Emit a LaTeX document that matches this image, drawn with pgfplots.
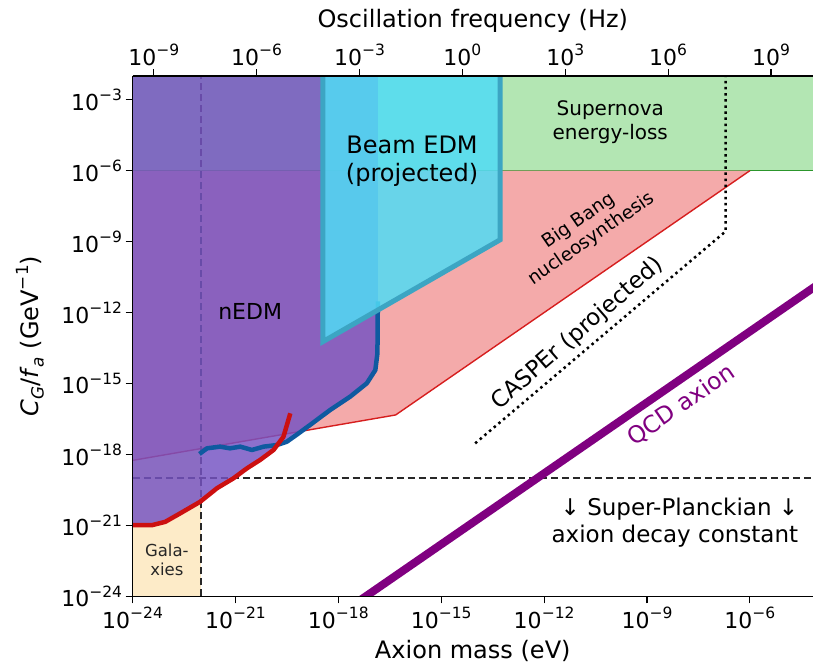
\documentclass[border=0pt]{standalone}
\usepackage{pgfplots}
\pgfplotsset{compat=1.18}
\usepackage{fontspec}
\setmainfont{DejaVu Sans}[ItalicFont={DejaVu Sans Oblique}]
\definecolor{galx}{RGB}{253,235,200}
\definecolor{sng}{RGB}{179,230,179}
\definecolor{sne}{RGB}{44,150,44}
\definecolor{bbn}{RGB}{244,170,170}
\definecolor{bbne}{RGB}{214,30,30}
\definecolor{nedm}{RGB}{117,83,195}
\definecolor{bluel}{RGB}{15,90,160}
\definecolor{redl}{RGB}{204,16,16}
\definecolor{cyanf}{RGB}{80,220,245}
\definecolor{cyane}{RGB}{60,165,195}
\definecolor{qcd}{RGB}{128,0,128}
\definecolor{dgray}{RGB}{40,40,40}
\newcommand{\pw}[1]{\mbox{10\raisebox{0.45em}{\fontsize{15.5bp}{16bp}\selectfont #1}}}
\newcommand{\sups}[1]{\raisebox{0.42em}{\fontsize{16.8bp}{18bp}\selectfont #1}}
\newcommand{\subs}[1]{\raisebox{-0.22em}{\fontsize{16.8bp}{18bp}\selectfont #1}}
\begin{document}
\begin{tikzpicture}
\begin{axis}[name=main, scale only axis, width=680bp, height=520bp,
  xmode=log, ymode=log, xmin=1e-24, xmax=6.92e-5, ymin=1e-24, ymax=1e-2,
  axis x line*=bottom, axis y line*=left, axis on top,
  axis line style={line width=1.1bp, black},
  tick align=outside, major tick length=7bp, tick style={line width=1.1bp, black},
  xminorticks=false, yminorticks=false,
  xtick={1e-24,1e-21,1e-18,1e-15,1e-12,1e-9,1e-6},
  xticklabels={\pw{−24},\pw{−21},\pw{−18},\pw{−15},\pw{−12},\pw{−9},\pw{−6}},
  ytick={1e-24,1e-21,1e-18,1e-15,1e-12,1e-9,1e-6,1e-3},
  yticklabels={\pw{−24},\pw{−21},\pw{−18},\pw{−15},\pw{−12},\pw{−9},\pw{−6},\pw{−3}},
  tick label style={font=\fontsize{22bp}{26bp}\selectfont},
  label style={font=\fontsize{24bp}{28bp}\selectfont},
  xlabel={Axion mass (eV)},
  ylabel={\textit{C}\subs{\textit{G}}/\textit{f}\subs{\textit{a}} (GeV\sups{−1})},
  xlabel style={at={(axis description cs:0.5,-0.104)}, anchor=center},
  ylabel style={at={(axis description cs:-0.151,0.5)}, anchor=center},
]
% Galaxies
\addplot[draw=none, fill=galx] coordinates {(1e-25,1e-25) (1e-22,1e-25) (1e-22,1) (1e-25,1)} -- cycle;
% Supernova energy loss
\addplot[draw=none, fill=sng] coordinates {(1e-25,1e-6) (1,1e-6) (1,1) (1e-25,1)} -- cycle;
\addplot[sne, line width=1.5bp] coordinates {(1e-25,1e-6) (1,1e-6)};
% Big Bang nucleosynthesis
\addplot[draw=none, fill=bbn] coordinates {(1e-24,5.62e-19) (4.68e-17,4.68e-17) (1e-6,1e-6) (1e-24,1e-6)} -- cycle;
\addplot[bbne, line width=1.4bp] coordinates {(1e-24,5.62e-19) (4.68e-17,4.68e-17) (1e-6,1e-6)};
% dashed limits
\addplot[dgray, line width=1.8bp, dash pattern=on 7bp off 4bp] coordinates {(1e-24,1e-19) (1,1e-19)};
\addplot[dgray, line width=1.8bp, dash pattern=on 7bp off 4bp] coordinates {(1e-22,1e-24) (1e-22,1)};
% nEDM region
\addplot[draw=none, fill=nedm, fill opacity=0.83] coordinates {
 (1e-24,1.02e-21) (3.63e-24,1.02e-21) (8.91e-24,1.41e-21) (2.45e-23,3.24e-21) (9.33e-23,1e-20)
 (2.88e-22,3.72e-20) (8.71e-22,9.77e-20) (2.14e-21,2.57e-19) (5.25e-21,5.89e-19) (1.29e-20,1.55e-18)
 (1.74e-20,2.69e-18) (3.16e-20,3.47e-18) (6.31e-20,7.08e-18) (1.51e-19,1.78e-17) (5.75e-19,7.59e-17)
 (2.19e-18,2.75e-16) (6.76e-18,1.02e-15) (1.20e-17,3.72e-15) (1.38e-17,1.91e-14) (1.41e-17,1e-12)
 (1.41e-17,1) (1e-25,1) (1e-25,1.02e-21)} -- cycle;
% nEDM limit (blue)
\addplot[bluel, line width=4.5bp, line join=round] coordinates {
 (8.91e-23,1.05e-18) (1.48e-22,1.82e-18) (3.55e-22,2.14e-18) (6.92e-22,1.82e-18) (1.38e-21,2.14e-18)
 (3.02e-21,1.55e-18) (6.61e-21,2.14e-18) (1.62e-20,2.51e-18) (3.16e-20,3.47e-18) (6.31e-20,7.08e-18)
 (1.51e-19,1.78e-17) (5.75e-19,7.59e-17) (2.19e-18,2.75e-16) (6.76e-18,1.02e-15) (1.20e-17,3.72e-15)
 (1.38e-17,1.91e-14) (1.41e-17,1e-12) (1.41e-17,3e-12)};
% red limit
\addplot[redl, line width=4.5bp, line join=round] coordinates {
 (1e-24,1.02e-21) (3.63e-24,1.02e-21) (8.91e-24,1.41e-21) (2.45e-23,3.24e-21) (9.33e-23,1e-20)
 (2.88e-22,3.72e-20) (8.71e-22,9.77e-20) (2.14e-21,2.57e-19) (5.25e-21,5.89e-19) (1.29e-20,1.55e-18)
 (2.51e-20,5.62e-18) (3.98e-20,5.50e-17)};
% Beam EDM projected
\addplot[fill=cyanf, fill opacity=0.85, draw=cyane, line width=5bp] coordinates {
 (3.55e-19,1) (3.55e-19,5.89e-14) (5.25e-14,1.20e-9) (5.25e-14,1)} -- cycle;
% CASPEr projected
\addplot[black, line width=2.5bp, dash pattern=on 2.5bp off 3.6bp] coordinates {
 (9.77e-15,2.95e-18) (1.95e-7,2.69e-9) (1.95e-7,1)};
% QCD axion
\addplot[qcd, line width=8bp] coordinates {(6.31e-19,1e-25) (1e-3,1.585e-10)};
% labels
\node[font=\fontsize{22bp}{26bp}\selectfont] at (axis cs:2.69e-21,1.07e-12) {nEDM};
\node[font=\fontsize{16.5bp}{19bp}\selectfont, align=center, text=black!85] at (axis cs:1e-23,3.4e-23) {Gala-\\xies};
\node[font=\fontsize{24bp}{28bp}\selectfont, align=center] at (axis cs:1.41e-16,2.4e-6) {Beam EDM\\(projected)};
\node[font=\fontsize{20bp}{24bp}\selectfont, align=center] at (axis cs:8.5e-11,1.17e-4) {Supernova\\energy-loss};
\node[font=\fontsize{18.5bp}{22bp}\selectfont, align=center, rotate=34.6] at (axis cs:1.58e-11,3.16e-9) {Big Bang\\nucleosynthesis};
\node[font=\fontsize{23bp}{27bp}\selectfont, rotate=41] at (axis cs:9.33e-12,1.26e-13) {CASPEr (projected)};
\node[font=\fontsize{23.5bp}{27bp}\selectfont, rotate=34.6, text=qcd] at (axis cs:1e-8,1.23e-16) {QCD axion};
\node[font=\fontsize{23bp}{27bp}\selectfont, align=right, anchor=east] at (axis cs:3.24e-5,1.32e-21) {↓ Super-Planckian ↓\\axion decay constant};
\end{axis}
\begin{axis}[scale only axis, width=680bp, height=520bp,
  xmode=log, xmin=2.418e-10, xmax=1.673e10, ymin=0, ymax=1,
  axis x line*=top, axis y line=none,
  axis line style={line width=1.1bp, black},
  tick align=outside, major tick length=7bp, tick style={line width=1.1bp, black},
  xminorticks=false,
  xtick={1e-9,1e-6,1e-3,1,1e3,1e6,1e9},
  xticklabels={\pw{−9},\pw{−6},\pw{−3},\pw{0},\pw{3},\pw{6},\pw{9}},
  tick label style={font=\fontsize{22bp}{26bp}\selectfont},
  label style={font=\fontsize{24bp}{28bp}\selectfont},
  xlabel={Oscillation frequency (Hz)},
  xlabel style={at={(axis description cs:0.5,1.106)}, anchor=center},
]
\end{axis}
\pgfresetboundingbox
\path[use as bounding box] ([xshift=-132.5bp,yshift=-68bp]main.south west) rectangle ([yshift=76bp]main.north east);
\end{tikzpicture}
\end{document}
